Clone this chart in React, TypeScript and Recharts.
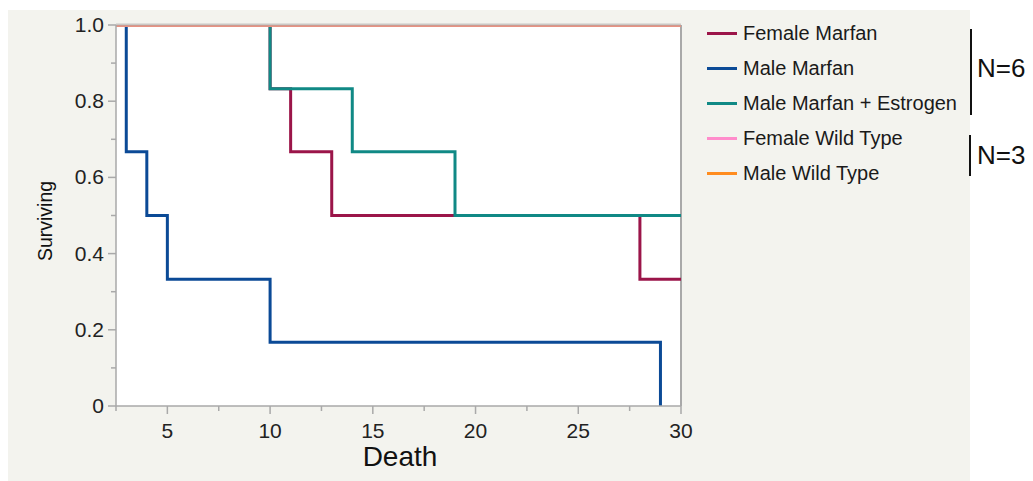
import { LineChart, Line, XAxis, YAxis, ReferenceArea, ReferenceLine } from 'recharts'

// Kaplan-Meier style survival steps
const femaleMarfanDays = [2.5, 10, 11, 13, 28, 30]
const femaleMarfanSurv = [1, 0.833, 0.667, 0.5, 0.333, 0.333]

const maleMarfanDays = [2.5, 3, 4, 5, 10, 29]
const maleMarfanSurv = [1, 0.667, 0.5, 0.333, 0.167, 0]

const estrogenDays = [2.5, 10, 14, 19, 30]
const estrogenSurv = [1, 0.833, 0.667, 0.5, 0.5]

const femaleWildDays = [2.5, 30]
const femaleWildSurv = [1, 1]

const maleWildDays = [2.5, 30]
const maleWildSurv = [1, 1]

const xTicks = [2.5, 5, 7.5, 10, 12.5, 15, 17.5, 20, 22.5, 25, 27.5, 30]
const yTicks = [0, 0.1, 0.2, 0.3, 0.4, 0.5, 0.6, 0.7, 0.8, 0.9, 1]
const yLabels: Record<string, string> = { '0': '0', '0.2': '0.2', '0.4': '0.4', '0.6': '0.6', '0.8': '0.8', '1': '1.0' }

const FONT = '"Liberation Sans", Arial, Helvetica, sans-serif'
const AXIS_GRAY = '#a9a9a9'

const toPoints = (xs: number[], ys: number[]) => xs.map((x, i) => ({ x, y: ys[i] }))

const series = [
  { name: 'Female Marfan', color: '#9b1549', data: toPoints(femaleMarfanDays, femaleMarfanSurv) },
  { name: 'Male Marfan', color: '#0b4a96', data: toPoints(maleMarfanDays, maleMarfanSurv) },
  { name: 'Male Marfan + Estrogen', color: '#108985', data: toPoints(estrogenDays, estrogenSurv) },
  { name: 'Female Wild Type', color: '#ff8ccb', data: toPoints(femaleWildDays, femaleWildSurv) },
  { name: 'Male Wild Type', color: '#ff8c1f', data: toPoints(maleWildDays, maleWildSurv) },
]

const XTick = (props: any) => {
  const { x, y, payload } = props
  const major = payload.value % 5 === 0
  return (
    <g>
      <line x1={x} x2={x} y1={y} y2={y + (major ? 8 : 5)} stroke={AXIS_GRAY} strokeWidth={1.5} />
      {major && (
        <text x={x} y={y + 32} textAnchor="middle" fontSize={21} fill="#222" fontFamily={FONT}>
          {payload.value}
        </text>
      )}
    </g>
  )
}

const YTick = (props: any) => {
  const { x, y, payload } = props
  const key = String(Math.round(payload.value * 10) / 10)
  const label = yLabels[key]
  const major = label !== undefined
  return (
    <g>
      <line x1={x - (major ? 8 : 5)} x2={x} y1={y} y2={y} stroke={AXIS_GRAY} strokeWidth={1.5} />
      {major && (
        <text x={x - 12} y={y + 7} textAnchor="end" fontSize={21} fill="#222" fontFamily={FONT}>
          {label}
        </text>
      )}
    </g>
  )
}

export default function App() {
  return (
    <div style={{ position: 'relative', width: 1025, height: 473, fontFamily: FONT }}>
      <div style={{ position: 'absolute', left: 0, top: 2, width: 962, height: 471, background: '#f3f3ee' }} />
      <div style={{ position: 'absolute', left: 0, top: 0 }}>
        <LineChart width={700} height={473} margin={{ top: 17, right: 27, bottom: 0, left: 0 }}>
          <XAxis
            dataKey="x"
            type="number"
            domain={[2.5, 30]}
            ticks={xTicks}
            allowDataOverflow
            tickLine={false}
            tickSize={0}
            tickMargin={0}
            tick={<XTick />}
            height={75}
            stroke={AXIS_GRAY}
            strokeWidth={1.5}
            label={{
              content: () => (
                <text x={392} y={458} textAnchor="middle" fontSize={28} fill="#111" fontFamily={FONT}>
                  Death
                </text>
              ),
            }}
          />
          <YAxis
            dataKey="y"
            type="number"
            domain={[0, 1]}
            ticks={yTicks}
            allowDataOverflow
            tickLine={false}
            tickSize={0}
            tickMargin={0}
            tick={<YTick />}
            width={108}
            stroke={AXIS_GRAY}
            strokeWidth={1.5}
            label={{
              content: () => (
                <text
                  x={37}
                  y={213}
                  transform="rotate(-90 37 213)"
                  textAnchor="middle"
                  dominantBaseline="central"
                  fontSize={19.5}
                  fill="#111"
                  fontFamily={FONT}
                >
                  Surviving
                </text>
              ),
            }}
          />
          <ReferenceArea x1={2.5} x2={30} y1={0} y2={1} fill="#ffffff" fillOpacity={1} stroke="none" />
          <ReferenceLine x={30} stroke={AXIS_GRAY} strokeWidth={2} />
          {series.map((s, i) => (
            <Line
              key={s.name}
              data={s.data}
              dataKey="y"
              name={s.name}
              type="stepAfter"
              stroke={s.color}
              strokeWidth={i >= 3 ? 4 : 3}
              strokeOpacity={i === 4 ? 0.5 : 1}
              dot={false}
              activeDot={false}
              isAnimationActive={false}
            />
          ))}
          <ReferenceLine y={1} stroke="#a8a4a4" strokeOpacity={0.55} strokeWidth={3} />
        </LineChart>
      </div>

      {/* legend */}
      <div style={{ position: 'absolute', left: 699, top: 8 }}>
        {series.map((s) => (
          <div key={s.name} style={{ display: 'flex', alignItems: 'center', height: 35 }}>
            <div style={{ width: 30, height: 3, background: s.color, marginRight: 6 }} />
            <span style={{ fontSize: 20, color: '#1a1a1a', whiteSpace: 'nowrap' }}>{s.name}</span>
          </div>
        ))}
      </div>

      {/* group brackets */}
      <div style={{ position: 'absolute', left: 962, top: 21, width: 1.5, height: 86, background: '#111' }} />
      <div style={{ position: 'absolute', left: 969, top: 45, fontSize: 26, color: '#111', lineHeight: '30px' }}>N=6</div>
      <div style={{ position: 'absolute', left: 961, top: 127, width: 1.5, height: 41, background: '#111' }} />
      <div style={{ position: 'absolute', left: 969, top: 132, fontSize: 26, color: '#111', lineHeight: '30px' }}>N=3</div>
    </div>
  )
}
